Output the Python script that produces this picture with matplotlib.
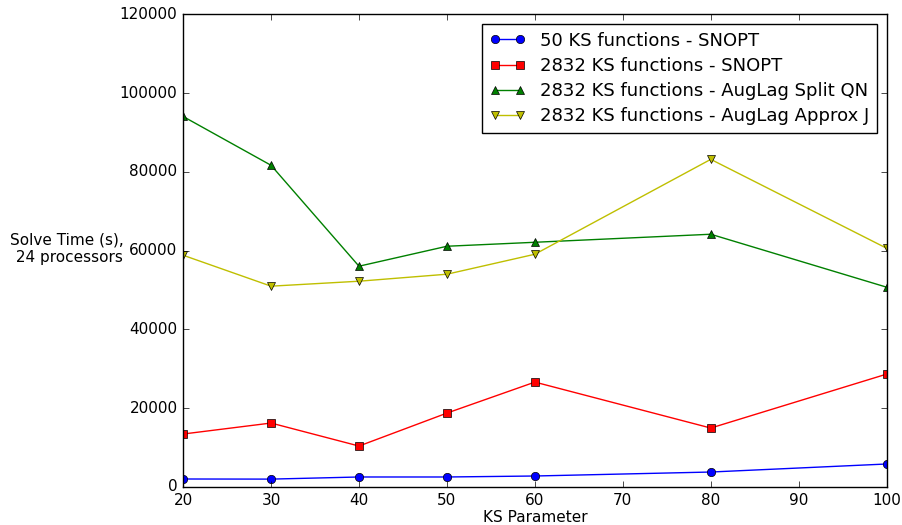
import matplotlib
matplotlib.use('Agg')
import matplotlib.pyplot as plt

plt.style.use('classic')

ks = [20, 30, 40, 50, 60, 80, 100]
snopt_50 = [2030, 2000, 2540, 2540, 2790, 3800, 5840]
snopt_2832 = [13450, 16240, 10400, 18770, 26640, 14970, 28670]
auglag_split = [94100, 81700, 56070, 61140, 62150, 64190, 50740]
auglag_approx = [58860, 51000, 52260, 54040, 59110, 83210, 60630]

fig = plt.figure(figsize=(9.02, 5.25), dpi=100, facecolor='white')
ax = fig.add_axes([0.203, 0.0724, 0.78, 0.9])

ax.plot(ks, snopt_50, 'bo-', label='50 KS functions - SNOPT')
ax.plot(ks, snopt_2832, 'rs-', label='2832 KS functions - SNOPT')
ax.plot(ks, auglag_split, 'g^-', label='2832 KS functions - AugLag Split QN')
ax.plot(ks, auglag_approx, 'yv-', label='2832 KS functions - AugLag Approx J')

ax.set_xlim(20, 100)
ax.set_ylim(0, 120000)
ax.set_xlabel('KS Parameter', fontsize=11, labelpad=2)
ax.set_ylabel('Solve Time (s),\n 24 processors', rotation=0, fontsize=11,
              ha='center', va='center', multialignment='center')
ax.yaxis.set_label_coords(-0.165, 0.505)
ax.tick_params(labelsize=11)
ax.ticklabel_format(style='plain', axis='y', useOffset=False)

ax.legend(loc='upper right', fontsize=13, numpoints=2, borderaxespad=0.55,
          labelspacing=0.4)

fig.savefig('out.png', dpi=100, facecolor='white')
